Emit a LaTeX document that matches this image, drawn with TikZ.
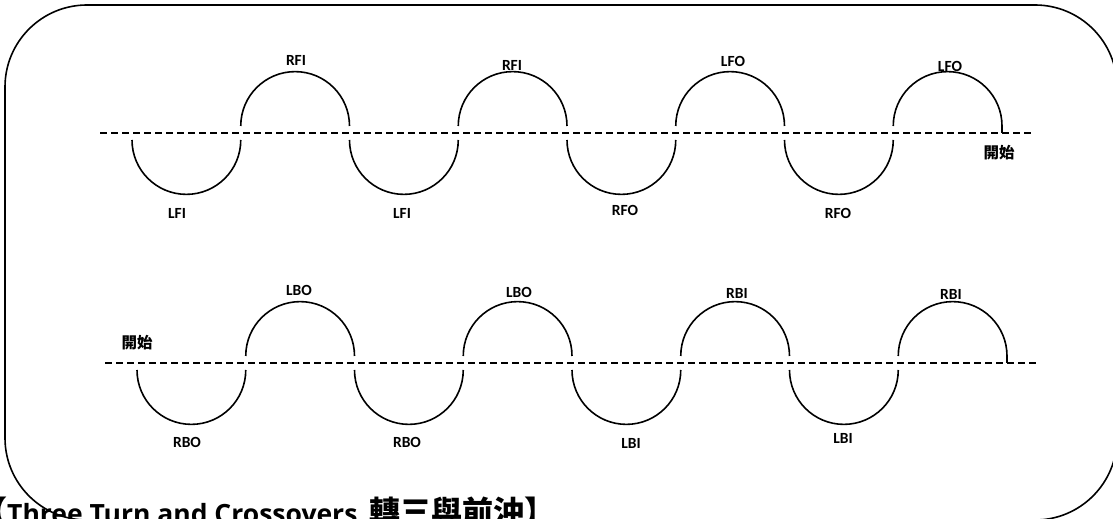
\documentclass[tikz,border=0pt]{standalone}
\usepackage{fontspec}
\setmainfont{Carlito}
\newfontfamily\cjk{Noto Sans CJK TC}
\newfontfamily\titlefont{Open Sans}
\tikzstyle{turn} = [line width=1.6pt, line cap=butt]
\tikzstyle{trackline} = [line width=1.6pt, dash pattern=on 7pt off 4pt]
\tikzstyle{rink} = [line width=1.6pt, rounded corners=82pt]
\tikzstyle{turnlabel} = [inner sep=0pt, font=\bfseries\fontsize{15.5}{18}\selectfont]
\tikzstyle{startlabel} = [inner sep=0pt, font=\cjk\bfseries\fontsize{15.5}{18}\selectfont]
\tikzstyle{titlelabel} = [inner sep=0pt, anchor=base west, font=\titlefont\bfseries\fontsize{26.5}{30}\selectfont]
\newcommand{\bigcjk}[1]{{\cjk\bfseries\fontsize{31}{36}\selectfont #1}}

\begin{document}
\begin{tikzpicture}[x=1pt, y=1pt]
      \useasboundingbox (0,0) rectangle (1113,519);
      \clip (0,0) rectangle (1113,519);
      \draw[rink] (5,-1) rectangle (1117,514);

      % forward row
      \draw[trackline] (100,386) -- (1033,386);
      \draw[turn] (132,379) arc[start angle=180, end angle=360, radius=54.375pt];
      \draw[turn] (240.75,393) arc[start angle=180, end angle=0, radius=54.375pt];
      \draw[turn] (349.5,379) arc[start angle=180, end angle=360, radius=54.375pt];
      \draw[turn] (458.25,393) arc[start angle=180, end angle=0, radius=54.375pt];
      \draw[turn] (567,379) arc[start angle=180, end angle=360, radius=54.375pt];
      \draw[turn] (675.75,393) arc[start angle=180, end angle=0, radius=54.375pt];
      \draw[turn] (784.5,379) arc[start angle=180, end angle=360, radius=54.375pt];
      \draw[turn] (893.25,393) arc[start angle=180, end angle=0, radius=54.375pt] -- ++(0,-7);

      \node[turnlabel] (rfi1) at (296,459) {RFI};
      \node[turnlabel] (rfi2) at (512,454) {RFI};
      \node[turnlabel] (lfo1) at (733,458) {LFO};
      \node[turnlabel] (lfo2) at (950,453) {LFO};
      \node[turnlabel] (lfi1) at (177,306) {LFI};
      \node[turnlabel] (lfi2) at (402,306) {LFI};
      \node[turnlabel] (rfo1) at (625,309) {RFO};
      \node[turnlabel] (rfo2) at (838,306) {RFO};
      \node[startlabel] (start1) at (999,366) {開始};

      % backward row
      \draw[trackline] (105,156) -- (1038,156);
      \draw[turn] (137,149) arc[start angle=180, end angle=360, radius=54.375pt];
      \draw[turn] (245.75,163) arc[start angle=180, end angle=0, radius=54.375pt];
      \draw[turn] (354.5,149) arc[start angle=180, end angle=360, radius=54.375pt];
      \draw[turn] (463.25,163) arc[start angle=180, end angle=0, radius=54.375pt];
      \draw[turn] (572,149) arc[start angle=180, end angle=360, radius=54.375pt];
      \draw[turn] (680.75,163) arc[start angle=180, end angle=0, radius=54.375pt];
      \draw[turn] (789.5,149) arc[start angle=180, end angle=360, radius=54.375pt];
      \draw[turn] (898.25,163) arc[start angle=180, end angle=0, radius=54.375pt] -- ++(0,-7);

      \node[turnlabel] (lbo1) at (299,229) {LBO};
      \node[turnlabel] (lbo2) at (519,227) {LBO};
      \node[turnlabel] (rbi1) at (737,226) {RBI};
      \node[turnlabel] (rbi2) at (951,225) {RBI};
      \node[turnlabel] (rbo1) at (187,77) {RBO};
      \node[turnlabel] (rbo2) at (407,77) {RBO};
      \node[turnlabel] (lbi1) at (631,76) {LBI};
      \node[turnlabel] (lbi2) at (843,81) {LBI};
      \node[startlabel] (start2) at (137,176) {開始};

      \node[titlelabel] (title) at (-24,-5) {\bigcjk{【}Three Turn and Crossovers\hspace{12pt}\bigcjk{轉三與前沖】}};
    \end{tikzpicture}
\end{document}
